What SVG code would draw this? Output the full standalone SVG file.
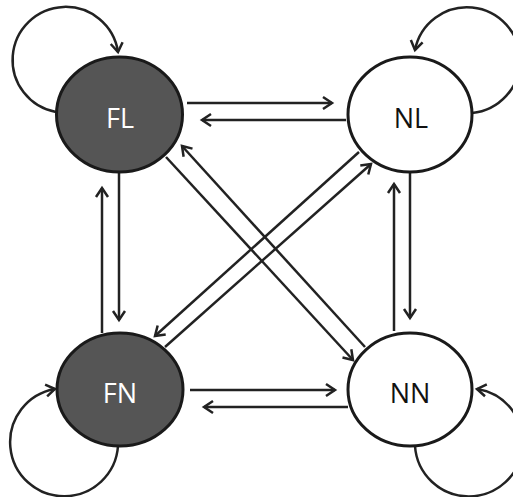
<svg xmlns="http://www.w3.org/2000/svg" width="513" height="497" viewBox="0 0 513 497">
<style>
.node{stroke:#1a1a1a;stroke-width:3}
.dark{fill:#555555}
.light{fill:#ffffff}
.lbl{font-family:"Open Sans","Liberation Sans",sans-serif;font-size:27px;text-anchor:middle;dominant-baseline:central}
.wl{fill:#ffffff}
.bl{fill:#111111}
.edge{fill:none;stroke:#222222;stroke-width:2.5}
</style>
<defs>
<marker id="arr" markerUnits="userSpaceOnUse" markerWidth="16" markerHeight="16" viewBox="-12 -8 14 16" refX="0" refY="0" orient="auto">
<path d="M-9,-6 L0,0 L-9,6" fill="none" stroke="#222222" stroke-width="2.5" stroke-linejoin="miter"/>
</marker>
</defs>
<g id="connectors">
<line class="edge" x1="187" y1="103" x2="332" y2="103" marker-end="url(#arr)"/>
<line class="edge" x1="346" y1="120" x2="202" y2="120" marker-end="url(#arr)"/>
<line class="edge" x1="190" y1="390" x2="335" y2="390" marker-end="url(#arr)"/>
<line class="edge" x1="348" y1="407" x2="204" y2="407" marker-end="url(#arr)"/>
<line class="edge" x1="119" y1="173" x2="119" y2="320" marker-end="url(#arr)"/>
<line class="edge" x1="102" y1="333" x2="102" y2="188" marker-end="url(#arr)"/>
<line class="edge" x1="410" y1="172" x2="410" y2="318" marker-end="url(#arr)"/>
<line class="edge" x1="394" y1="331" x2="394" y2="184" marker-end="url(#arr)"/>
<line class="edge" x1="166" y1="157" x2="353" y2="360" marker-end="url(#arr)"/>
<line class="edge" x1="365" y1="347" x2="182" y2="146" marker-end="url(#arr)"/>
<line class="edge" x1="359" y1="152" x2="155" y2="336" marker-end="url(#arr)"/>
<line class="edge" x1="165" y1="347" x2="371" y2="164" marker-end="url(#arr)"/>
<path class="edge" d="M56,112 A53,53 0 1 1 118,52" marker-end="url(#arr)"/>
<path class="edge" d="M472,113 A53,53 0 1 0 415,50" marker-end="url(#arr)"/>
<path class="edge" d="M118,446 A54,54 0 1 1 55,389" marker-end="url(#arr)"/>
<path class="edge" d="M415,446 A54,54 0 1 0 477,389" marker-end="url(#arr)"/>
</g>
<g id="FL">
<ellipse class="node dark" cx="119.5" cy="114.5" rx="63" ry="57.5"/>
<text class="lbl wl" x="120" y="117">FL</text>
</g>
<g id="NL">
<ellipse class="node light" cx="410" cy="114.5" rx="62" ry="57.5"/>
<text class="lbl bl" x="411" y="117">NL</text>
</g>
<g id="FN">
<ellipse class="node dark" cx="120" cy="389.5" rx="63" ry="56.5"/>
<text class="lbl wl" x="120" y="392">FN</text>
</g>
<g id="NN">
<ellipse class="node light" cx="410" cy="389.5" rx="62" ry="56.5"/>
<text class="lbl bl" x="410" y="392">NN</text>
</g>
</svg>
